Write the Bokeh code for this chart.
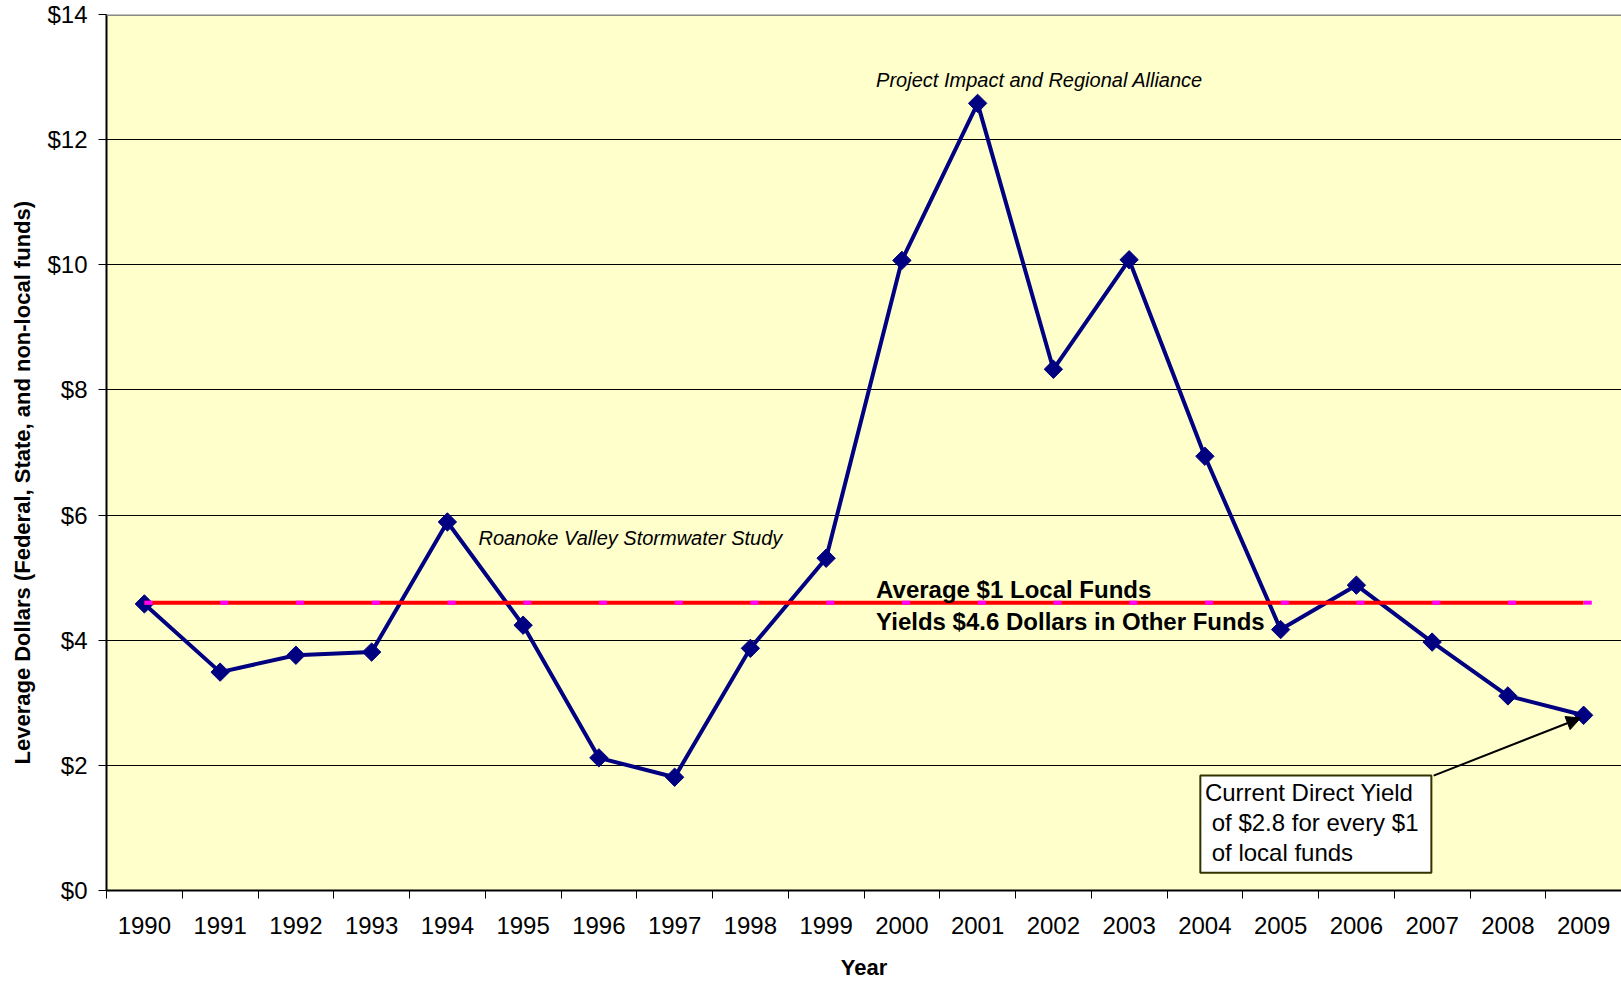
import math
from bokeh.plotting import figure
from bokeh.models import (Range1d, FixedTicker, Label, Arrow, NormalHead,
                          ColumnDataSource, Span, Title)
from bokeh.transform import dodge
from bokeh.embed import file_html
from bokeh.resources import INLINE

# ---------------- data ----------------
years = ["1990", "1991", "1992", "1993", "1994", "1995", "1996", "1997", "1998", "1999",
         "2000", "2001", "2002", "2003", "2004", "2005", "2006", "2007", "2008", "2009"]
leverage = [4.58, 3.49, 3.76, 3.81, 5.89, 4.24, 2.12, 1.81, 3.87, 5.31,
            10.07, 12.58, 8.33, 10.08, 6.94, 4.17, 4.88, 3.97, 3.11, 2.80]
average_value = 4.6
average = [average_value] * len(years)
y_ticks = [0, 2, 4, 6, 8, 10, 12, 14]
y_tick_labels = ["$0", "$2", "$4", "$6", "$8", "$10", "$12", "$14"]

FONT = "Liberation Sans"

x_pos = [i + 0.5 for i in range(len(years))]
src = ColumnDataSource(dict(x=x_pos, year=years, lev=leverage, avg=average))

p = figure(width=1621, height=982, output_backend="svg", toolbar_location=None,
           x_range=Range1d(0, len(years)), y_range=Range1d(0, 14),
           min_border_left=105, min_border_right=0, min_border_top=14, min_border_bottom=91,
           background_fill_color="#FFFFCC", border_fill_color="white",
           outline_line_color=None)

# ---------------- axes ----------------
xa = p.xaxis[0]
xa.ticker = FixedTicker(ticks=x_pos, minor_ticks=list(range(len(years) + 1)))
xa.major_label_overrides = {xv: yr for xv, yr in zip(x_pos, years)}
xa.major_tick_out = 0
xa.major_tick_in = 0
xa.minor_tick_out = 8
xa.minor_tick_in = 0
xa.minor_tick_line_color = "black"
xa.minor_tick_line_width = 1
xa.axis_line_color = "black"
xa.axis_line_width = 2
xa.major_label_text_font = FONT
xa.major_label_text_font_size = "24px"
xa.major_label_text_color = "black"
xa.major_label_standoff = 18
xa.axis_label = "Year"
xa.axis_label_text_font = FONT
xa.axis_label_text_font_size = "22px"
xa.axis_label_text_font_style = "bold"
xa.axis_label_text_color = "black"
xa.axis_label_standoff = 18

ya = p.yaxis[0]
ya.ticker = FixedTicker(ticks=y_ticks)
ya.major_label_overrides = dict(zip(y_ticks, y_tick_labels))
ya.major_tick_out = 8
ya.major_tick_in = 0
ya.minor_tick_out = 0
ya.minor_tick_in = 0
ya.major_tick_line_color = "black"
ya.axis_line_color = "black"
ya.axis_line_width = 2
ya.major_label_text_font = FONT
ya.major_label_text_font_size = "24px"
ya.major_label_text_color = "black"
ya.major_label_standoff = 11

p.xgrid.visible = False
p.ygrid.ticker = FixedTicker(ticks=y_ticks)
p.ygrid.grid_line_color = "black"
p.ygrid.grid_line_width = 1
p.ygrid.grid_line_alpha = 1.0

p.add_layout(Span(location=14, dimension="width", line_color="#888888", line_width=3))

# y-axis title, placed off-centre like the original
p.add_layout(Title(text="Leverage Dollars (Federal, State, and non-local funds)",
                   align="left", offset=126, vertical_align="middle", standoff=17,
                   text_font=FONT, text_font_size="22px", text_font_style="bold",
                   text_color="black"), "left")

# ---------------- series ----------------
p.line("x", "lev", source=src, line_color="#000080", line_width=4)
p.scatter("x", "lev", source=src, marker="square", angle=math.pi / 4, size=13,
          fill_color="#000080", line_color="#000080")
p.line("x", "avg", source=src, line_color="#FF0000", line_width=4)
p.scatter(dodge("x", 0.055), "avg", source=src, marker="dash", size=8,
          line_color="#FF00FF", line_width=4)

# ---------------- annotations ----------------
p.add_layout(Label(x=4.91, y=5.635, text="Roanoke  Valley Stormwater Study",
                   text_font=FONT, text_font_size="20px", text_font_style="italic",
                   text_baseline="alphabetic", text_color="black"))
p.add_layout(Label(x=10.16, y=12.955, text="Project Impact and Regional Alliance",
                   text_font=FONT, text_font_size="20px", text_font_style="italic",
                   text_baseline="alphabetic", text_color="black"))
p.add_layout(Label(x=10.16, y=4.805, text="Average $1 Local Funds",
                   text_font=FONT, text_font_size="24px", text_font_style="bold",
                   text_baseline="alphabetic", text_color="black"))
p.add_layout(Label(x=10.16, y=4.305, text="Yields $4.6 Dollars in Other Funds",
                   text_font=FONT, text_font_size="24px", text_font_style="bold",
                   text_baseline="alphabetic", text_color="black"))

p.quad(left=[14.44], right=[17.49], top=[1.836], bottom=[0.283],
       fill_color="white", line_color="#333300", line_width=2)
box_lines = ["Current Direct Yield", "of $2.8 for every $1", "of local funds"]
box_x = [14.50, 14.59, 14.59]
box_y = [1.568, 1.089, 0.610]
for t, bx, by in zip(box_lines, box_x, box_y):
    p.add_layout(Label(x=bx, y=by, text=t, text_font=FONT, text_font_size="24px",
                       text_baseline="alphabetic", text_color="black"))

p.add_layout(Arrow(end=NormalHead(size=14, fill_color="black", line_color="black"),
                   x_start=17.52, y_start=1.836, x_end=19.46, y_end=2.757,
                   line_color="black", line_width=2))

open("out.html", "w").write(file_html(p, INLINE))
